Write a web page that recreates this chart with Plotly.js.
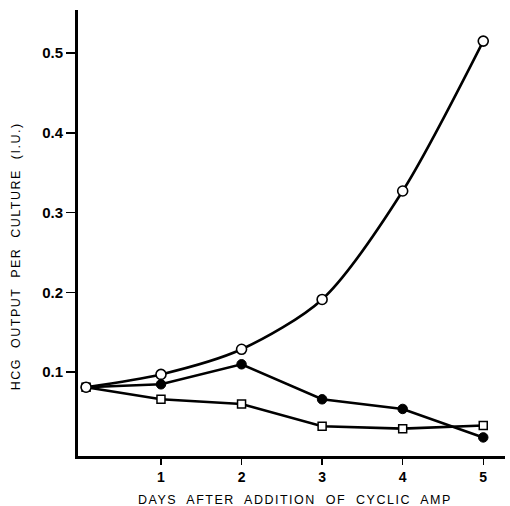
<!DOCTYPE html>
<html>
<head>
<meta charset="utf-8">
<script src="https://cdn.plot.ly/plotly-3.0.1.min.js"></script>
<style>
html,body{margin:0;padding:0;background:#fff;}
#chart{width:510px;height:506px;}
.annotation-text{letter-spacing:1.5px;}
</style>
</head>
<body>
<div id="chart"></div>
<script>
const days = [0.07, 1, 2, 3, 4, 5];
const openCircles = [0.081, 0.097, 0.1285, 0.191, 0.327, 0.515];
const filledCircles = [0.081, 0.0846, 0.1097, 0.0658, 0.0537, 0.018];
const squares = [0.081, 0.0658, 0.060, 0.032, 0.029, 0.033];
const xTicks = [1, 2, 3, 4, 5];
const yTicks = [0.1, 0.2, 0.3, 0.4, 0.5];
const yTickLabels = ['0.1', '0.2', '0.3', '0.4', '0.5'];
const xTitle = 'DAYS  AFTER  ADDITION  OF  CYCLIC  AMP';
const yTitle = 'HCG  OUTPUT  PER  CULTURE  (I.U.)';

const lineStyle = {color: '#000', width: 2.6};
const traces = [
  {x: days, y: squares, mode: 'lines+markers', line: lineStyle,
   marker: {symbol: 'square', size: 8, color: '#fff', line: {color: '#000', width: 1.5}}},
  {x: days, y: filledCircles, mode: 'lines+markers', line: lineStyle,
   marker: {symbol: 'circle', size: 9.5, color: '#000', line: {color: '#000', width: 1}}},
  {x: days, y: openCircles, mode: 'lines+markers', line: Object.assign({shape: 'spline', smoothing: 0.8}, lineStyle),
   marker: {symbol: 'circle', size: 10, color: '#fff', line: {color: '#000', width: 1.6}}}
];

const layout = {
  width: 510, height: 506,
  margin: {l: 78, r: 5, t: 10, b: 50},
  paper_bgcolor: '#fff', plot_bgcolor: '#fff',
  showlegend: false,
  font: {family: 'Liberation Sans, Arial, sans-serif', color: '#000'},
  xaxis: {
    range: [-0.03, 5.27], showgrid: false, zeroline: false,
    showline: true, linecolor: '#000', linewidth: 3,
    tickmode: 'array', tickvals: xTicks, ticks: 'outside', ticklen: 6, tickwidth: 1.5, tickcolor: '#000',
    tickfont: {size: 14, family: 'Liberation Sans, Arial, sans-serif', weight: 'bold'}
  },
  yaxis: {
    range: [-0.0053, 0.554], showgrid: false, zeroline: false,
    showline: true, linecolor: '#000', linewidth: 3,
    tickmode: 'array', tickvals: yTicks, ticktext: yTickLabels, ticks: 'outside', ticklen: 9, tickwidth: 1.5, tickcolor: '#000',
    tickfont: {size: 15, family: 'Liberation Sans, Arial, sans-serif', weight: 'bold'}
  },
  annotations: [
    {text: xTitle, xref: 'paper', yref: 'paper', x: 0.509, y: 0, yshift: -44, showarrow: false,
     xanchor: 'center', yanchor: 'middle', font: {size: 12.5, color: '#000'}},
    {text: yTitle, xref: 'paper', yref: 'paper', x: 0, xshift: -62, y: 0.448, showarrow: false,
     textangle: -90, xanchor: 'center', yanchor: 'middle', font: {size: 12.5, color: '#000'}}
  ]
};

Plotly.newPlot('chart', traces, layout, {displayModeBar: false, staticPlot: true});
</script>
</body>
</html>
